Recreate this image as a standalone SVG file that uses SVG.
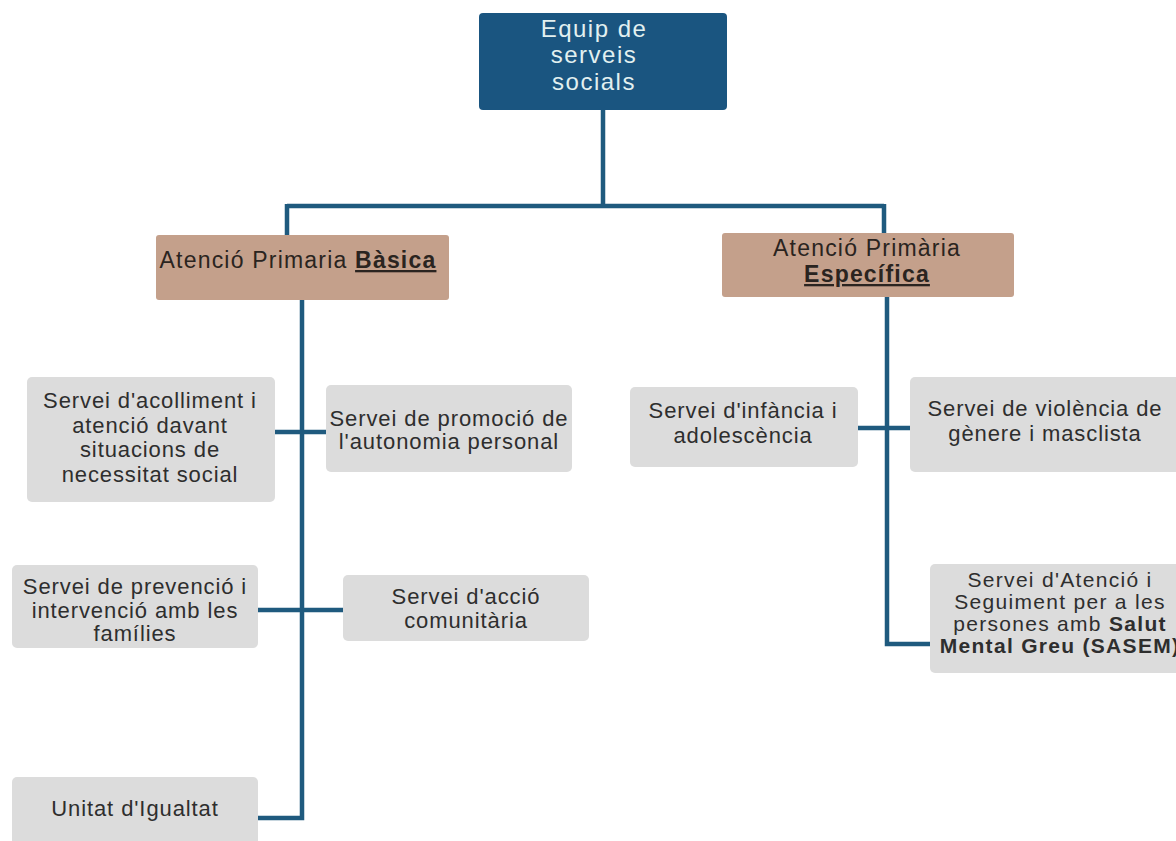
<svg xmlns="http://www.w3.org/2000/svg" width="1176" height="841" viewBox="0 0 1176 841">
<style>
text{font-family:"Liberation Sans",Arial,sans-serif;text-anchor:middle}
.top{fill:#1a5580}
.topt{fill:#e2f0f0;font-size:24px;letter-spacing:1.5px}
.cat{fill:#c4a08b}
.catt{fill:#2a2420;font-size:23px;letter-spacing:1.2px}
.svc{fill:#dcdcdc}
.svct{fill:#2e2e2e;font-size:22px;letter-spacing:0.9px}
.sm{font-size:21px;letter-spacing:1.3px}
.b{font-weight:bold;text-decoration:underline}
.bb{font-weight:bold}
.c{fill:none;stroke:#1f5a7e;stroke-width:4.5}
</style>
<rect width="1176" height="841" fill="#ffffff"/>
<g id="connectors">
<path class="c" d="M603 110V206M287 206H884M287 204V235M884 204V233"/>
<path class="c" d="M302 300V818H258M275 432H326M258 610H343"/>
<path class="c" d="M887 297V644H930M858 428H910"/>
</g>
<g id="equip">
<rect class="top" x="479" y="13" width="248" height="97" rx="4"/>
<text class="topt" x="594" y="37">Equip de</text>
<text class="topt" x="594" y="63">serveis</text>
<text class="topt" x="594" y="90">socials</text>
</g>
<g id="basica">
<rect class="cat" x="156" y="235" width="293" height="65" rx="3"/>
<text class="catt" x="298" y="268">Atenció Primaria <tspan class="b">Bàsica</tspan></text>
</g>
<g id="especifica">
<rect class="cat" x="722" y="233" width="292" height="64" rx="3"/>
<text class="catt" x="867" y="256">Atenció Primària</text>
<text class="catt" x="867" y="282"><tspan class="b">Específica</tspan></text>
</g>
<g id="acolliment">
<rect class="svc" x="27" y="377" width="248" height="125" rx="5"/>
<text class="svct" x="150" y="408">Servei d'acolliment i</text>
<text class="svct" x="150" y="433">atenció davant</text>
<text class="svct" x="150" y="457">situacions de</text>
<text class="svct" x="150" y="482">necessitat social</text>
</g>
<g id="promocio">
<rect class="svc" x="326" y="385" width="246" height="87" rx="5"/>
<text class="svct" x="449" y="426">Servei de promoció de</text>
<text class="svct" x="449" y="449">l'autonomia personal</text>
</g>
<g id="prevencio">
<rect class="svc" x="12" y="565" width="246" height="83" rx="5"/>
<text class="svct" x="135" y="594">Servei de prevenció i</text>
<text class="svct" x="135" y="618">intervenció amb les</text>
<text class="svct" x="135" y="641">famílies</text>
</g>
<g id="comunitaria">
<rect class="svc" x="343" y="575" width="246" height="66" rx="5"/>
<text class="svct" x="466" y="604">Servei d'acció</text>
<text class="svct" x="466" y="628">comunitària</text>
</g>
<g id="igualtat">
<rect class="svc" x="12" y="777" width="246" height="70" rx="5"/>
<text class="svct" x="135" y="816">Unitat d'Igualtat</text>
</g>
<g id="infancia">
<rect class="svc" x="630" y="387" width="228" height="80" rx="5"/>
<text class="svct" x="743" y="418">Servei d'infància i</text>
<text class="svct" x="743" y="443">adolescència</text>
</g>
<g id="violencia">
<rect class="svc" x="910" y="377" width="276" height="95" rx="5"/>
<text class="svct" x="1045" y="416">Servei de violència de</text>
<text class="svct" x="1045" y="441">gènere i masclista</text>
</g>
<g id="sasem">
<rect class="svc" x="930" y="564" width="256" height="109" rx="5"/>
<text class="svct sm" x="1060" y="587">Servei d'Atenció i</text>
<text class="svct sm" x="1060" y="609">Seguiment per a les</text>
<text class="svct sm" x="1060" y="631">persones amb <tspan class="bb">Salut</tspan></text>
<text class="svct sm" x="1060" y="653"><tspan class="bb">Mental Greu (SASEM)</tspan></text>
</g>
</svg>
